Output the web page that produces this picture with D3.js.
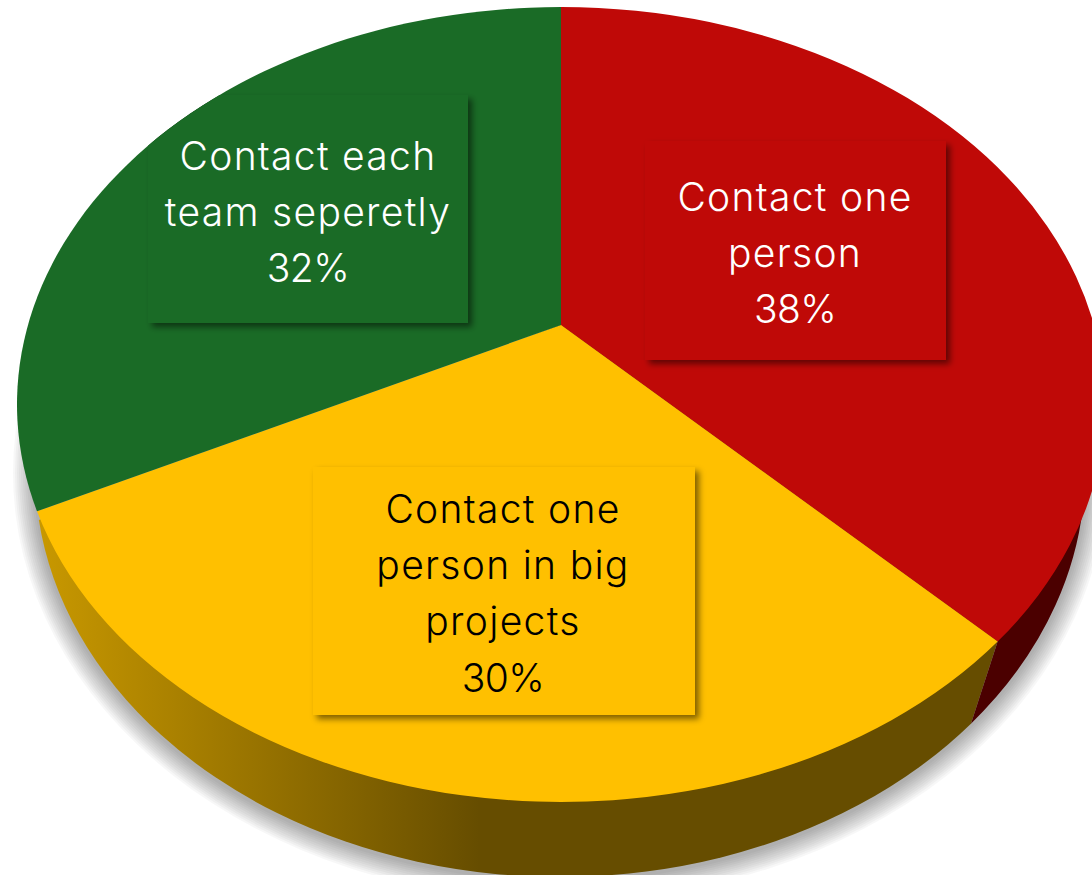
<!DOCTYPE html>
<html>
<head>
<meta charset="utf-8">
<script src="https://cdn.jsdelivr.net/npm/d3@7/dist/d3.min.js"></script>
<style>
  html, body { margin: 0; padding: 0; background: #fff; overflow: hidden; }
  svg { display: block; }
  text { font-family: Inter, "Noto Sans", sans-serif; font-weight: 300; letter-spacing: 1.3px; }
  text.share { letter-spacing: -0.6px; }
</style>
</head>
<body>
<svg id="chart" width="1092" height="875"></svg>
<script>
// Survey shares, clockwise from twelve o'clock.
const categories = [
  ["Contact one", "person"],
  ["Contact one", "person in big", "projects"],
  ["Contact each", "team seperetly"]
];
const shares = [38, 30, 32];
const sliceColors = ["#BF0907", "#FFC000", "#1A6B26"];
const textColors = ["#ffffff", "#000000", "#ffffff"];
const sideColors = ["#4B0000", "url(#sideShade)"];

// Tilted-disc geometry: the rim ellipse, the ellipse of the disc's underside,
// and the hub, which perspective lifts above the rim's centre.
const hub = { x: 561, y: 325 };
const rim = { cx: 561, cy: 404.5, rx: 544, ry: 397.5 };
const base = { cx: 560, cy: 471, rx: 525, ry: 406 };
const aspect = 1.421, skew = 0.0346;

// Label panels: left, top, right, bottom, text centre and first baseline.
const panels = [
  { x0: 645, y0: 141, x1: 946, y1: 360, cx: 795, baseline: 211 },
  { x0: 313, y0: 467, x1: 695, y1: 715, cx: 503, baseline: 523 },
  { x0: 148, y0: 95, x1: 468, y1: 323, cx: 308, baseline: 169.5 }
];
const lineStep = 56.2;

// Ground shadow as stacked rings: outward spread and black opacity of each.
const shadowSpread = d3.range(22, 0, -2);
const shadowLayerOpacity = 0.03;

const svg = d3.select("#chart");
const defs = svg.append("defs");

// Point where the ray from the hub at a given pie angle meets the rim.
function rimPoint(angle) {
  const dx = aspect * Math.sin(angle);
  const dy = -(Math.cos(angle) + skew * Math.sin(angle));
  const ox = hub.x - rim.cx, oy = hub.y - rim.cy;
  const a = (dx * dx) / (rim.rx * rim.rx) + (dy * dy) / (rim.ry * rim.ry);
  const b = 2 * ((ox * dx) / (rim.rx * rim.rx) + (oy * dy) / (rim.ry * rim.ry));
  const c = (ox * ox) / (rim.rx * rim.rx) + (oy * oy) / (rim.ry * rim.ry) - 1;
  const t = (-b + Math.sqrt(b * b - 4 * a * c)) / (2 * a);
  return [hub.x + t * dx, hub.y + t * dy];
}

// Drops a rim point along the converging vertical edge onto the underside.
const vanishing = { x: 561, y: 1984 };
function basePoint(p) {
  const dx = p[0] - vanishing.x, dy = p[1] - vanishing.y;
  const ax = dx * dx / (base.rx * base.rx), ay = dy * dy / (base.ry * base.ry);
  const ox = vanishing.x - base.cx, oy = vanishing.y - base.cy;
  const a = ax + ay;
  const b = 2 * (ox * dx / (base.rx * base.rx) + oy * dy / (base.ry * base.ry));
  const c = ox * ox / (base.rx * base.rx) + oy * oy / (base.ry * base.ry) - 1;
  const t = (-b - Math.sqrt(b * b - 4 * a * c)) / (2 * a);
  return [vanishing.x + t * dx, vanishing.y + t * dy];
}

const pie = d3.pie().value(d => d).sort(null)(shares);

function slicePath(d) {
  const p0 = rimPoint(d.startAngle), p1 = rimPoint(d.endAngle);
  const large = d.endAngle - d.startAngle > Math.PI ? 1 : 0;
  return `M${hub.x},${hub.y}L${p0[0]},${p0[1]}A${rim.rx},${rim.ry} 0 ${large} 1 ${p1[0]},${p1[1]}Z`;
}

// Shading along the side wall, brightest toward the left.
const shade = defs.append("linearGradient")
  .attr("id", "sideShade").attr("gradientUnits", "userSpaceOnUse")
  .attr("x1", 40).attr("x2", 480).attr("y1", 0).attr("y2", 0);
shade.append("stop").attr("offset", 0).attr("stop-color", "#C89800");
shade.append("stop").attr("offset", 1).attr("stop-color", "#664D00");

defs.append("filter").attr("id", "panelShadow")
  .attr("x", "-10%").attr("y", "-10%").attr("width", "120%").attr("height", "120%")
  .append("feGaussianBlur").attr("stdDeviation", 3);

pie.forEach((d, i) => {
  defs.append("clipPath").attr("id", `slice-${i}`).append("path").attr("d", slicePath(d));
});

// Ground shadow spreading just past the disc's underside.
svg.selectAll("ellipse.ground").data(shadowSpread).join("ellipse")
  .attr("class", "ground")
  .attr("cx", base.cx).attr("cy", base.cy + 2)
  .attr("rx", s => base.rx + s).attr("ry", s => base.ry + s)
  .attr("fill", "#000").attr("fill-opacity", shadowLayerOpacity);

const disc = svg.append("g");

// Side walls: the amber wall runs from the left end of the underside to the
// amber/red corner, the red wall continues to the right end.
const corner = rimPoint(pie[0].endAngle);
const cornerLow = basePoint(corner);
const leftEnd = [base.cx - base.rx * Math.sqrt(1 - Math.pow((520 - base.cy) / base.ry, 2)), 520];
const rightEnd = [base.cx + base.rx, base.cy];

disc.append("path")
  .attr("fill", sideColors[1])
  .attr("d", `M${corner}L${cornerLow}A${base.rx},${base.ry} 0 0 1 ${leftEnd}L${hub.x},${hub.y}Z`);
disc.append("path")
  .attr("fill", sideColors[0])
  .attr("d", `M${corner}L${cornerLow}A${base.rx},${base.ry} 0 0 0 ${rightEnd}L${hub.x},${hub.y}Z`);

// Top faces.
disc.selectAll("path.slice").data(pie).join("path")
  .attr("class", "slice")
  .attr("d", slicePath)
  .attr("fill", (d, i) => sliceColors[i]);

// Label panels sit on their slice with a soft shadow at the lower right.
const labels = svg.selectAll("g.label").data(pie).join("g")
  .attr("class", "label")
  .attr("clip-path", (d, i) => `url(#slice-${i})`);

labels.append("rect")
  .attr("x", (d, i) => panels[i].x0 + 4).attr("y", (d, i) => panels[i].y0 + 4)
  .attr("width", (d, i) => panels[i].x1 - panels[i].x0)
  .attr("height", (d, i) => panels[i].y1 - panels[i].y0)
  .attr("fill", "#000").attr("fill-opacity", 0.5)
  .attr("filter", "url(#panelShadow)");

labels.append("rect")
  .attr("x", (d, i) => panels[i].x0).attr("y", (d, i) => panels[i].y0)
  .attr("width", (d, i) => panels[i].x1 - panels[i].x0)
  .attr("height", (d, i) => panels[i].y1 - panels[i].y0)
  .attr("fill", (d, i) => sliceColors[i]);

labels.each(function (d, i) {
  const lines = [...categories[i], `${d.data}%`];
  d3.select(this).selectAll("text").data(lines).join("text")
    .attr("class", (t, k) => k === lines.length - 1 ? "share" : null)
    .attr("x", panels[i].cx)
    .attr("y", (t, k) => panels[i].baseline + k * lineStep)
    .attr("text-anchor", "middle")
    .attr("font-size", 39)
    .attr("fill", textColors[i])
    .text(t => t);
});
</script>
</body>
</html>
